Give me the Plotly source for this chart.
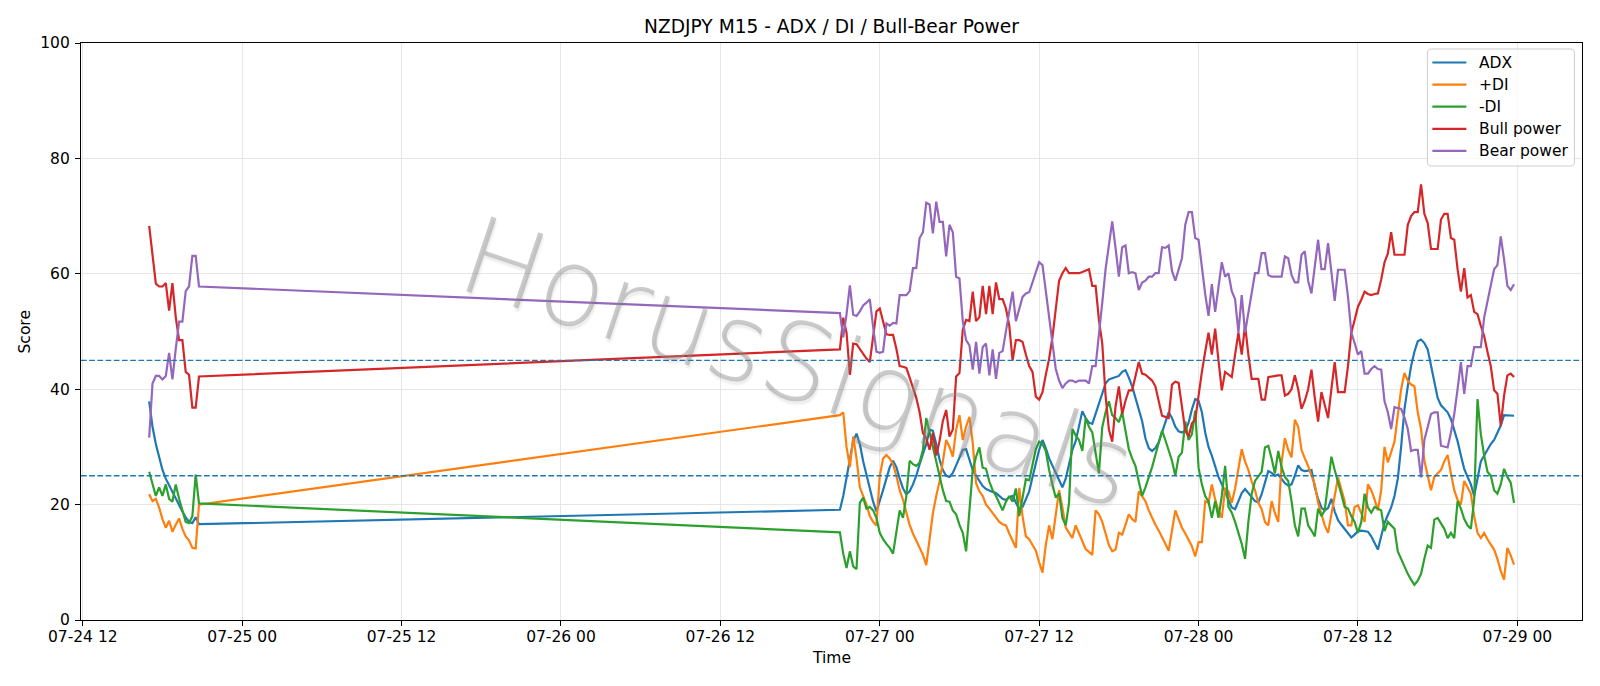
import re
import pandas as pd
import plotly.graph_objects as go

# ---------------- data ----------------
seg1_start = "2025-07-24 17:00"
seg2_start = "2025-07-26 21:00"

adx1 = [37.9, 33.5, 30.5, 28, 26, 24.5, 23.3, 22.2, 21, 19.8, 18.8, 17.8, 17.0, 16.8, 17.8, 16.6]
pdi1 = [21.8, 20.6, 21, 19.5, 17.5, 16, 17.2, 15.3, 16.5, 17.6, 15.8, 14.5, 13.8, 12.5, 12.4, 20]
mdi1 = [25.7, 23.5, 21.5, 23, 21.5, 23.5, 21, 20.5, 23.5, 21, 19, 17, 16.8, 18, 25.2, 20.2]
bull1 = [68.3, 63, 58.3, 57.8, 57.8, 58.4, 53.6, 58.4, 52.5, 48.5, 48.5, 43, 42.5, 36.8, 36.8, 42.2]
bear1 = [31.6, 41, 42.3, 42.3, 41.7, 42.3, 46.3, 41.7, 47, 51.7, 51.7, 57, 57.8, 63.1, 63.1, 57.8]

adx2 = [
    19.1, 21.5, 24.5, 28, 31, 32.3, 30.5, 27.5, 25, 22.5,
    20.5, 18.8, 20.5, 22.5, 24.5, 26.5, 27.6, 26.5, 24.5, 22.8,
    21.8, 22.3, 23.5, 25, 27, 28.8, 30.5, 33, 32.8, 30.5,
    27.8, 26, 25, 24.8, 25.5, 26.8, 28.3, 29.5, 29.6, 27.8,
    26, 25, 24, 23.2, 22.7, 22.4, 22.2, 22, 21.5, 21,
    20.8, 21.3, 21.5, 20.2, 19.2, 19.6, 20.8, 22.3, 24.8, 27.3,
    29.5, 31.2, 29.8, 28, 26.8, 25.5, 24.2, 23, 24.5, 27,
    29.5, 31, 33.5, 36.2, 35, 34.2, 34, 35.8, 37.8, 39.5,
    41, 41.7, 41.9, 42, 42.3, 43, 43.3, 42, 40.5, 38.5,
    36.5, 34.5, 31.5, 29.8, 29.3, 29.8, 30.8, 32.5, 34.5, 36,
    35, 33.5, 32.7, 32.5, 32.8, 34.2, 36.5, 38.3, 38, 36,
    32.5, 30, 28.5, 26.5, 24.8, 23.5, 22.3, 20.8, 19.5, 19.2,
    20.5, 22, 22.7, 22, 21.2, 20.6, 20.4, 21.8, 23.8, 25.8,
    25.5, 25, 25.2, 24.5, 23.7, 23.3, 23.5, 25, 26.8, 26,
    25.8, 25.9, 26, 23, 21, 19.5, 19, 19.4, 21, 18.8,
    17.3, 16.5, 15.8, 15, 14.3, 14.8, 15.4, 15.5, 15.4, 15.3,
    14.5, 13.2, 12.2, 14.5, 16.8, 18.2, 19.5, 21.5, 24.5, 30,
    36.5, 40.5, 44, 46.5, 48.3, 48.6, 48, 46.9, 44, 41,
    38.5, 37.2, 36.5, 36, 34.8, 33, 31, 28.5, 26.2, 24.8,
    23.5, 21.5, 24.5, 27.5, 28.5, 29.5, 30.5, 31.2, 32.5, 33.7,
    35.5, 35.5, 35.4, 35.4,
]
pdi2 = [
    35.5, 36, 30, 26.5, 31.8, 28, 23, 21.5, 20, 18,
    17, 16.4, 25, 28, 28.6, 28, 27, 25, 22.5, 20.8,
    18.5, 16.5, 15, 13.8, 12.5, 11.3, 9.5, 14, 18.5, 21.5,
    24, 27.5, 31.2, 30, 28.3, 33, 35.5, 31.2, 33.5, 35.2,
    30.7, 23.7, 22.3, 21.5, 20, 19.3, 18.5, 17.7, 17, 16.6,
    16.4, 15, 13.8, 12.5, 22.9, 18, 14.5, 14, 13, 12,
    10, 8.2, 13, 16.4, 14, 18, 22.5, 19.5, 16, 15.1,
    14.2, 16.4, 15, 13.5, 12.3, 11.8, 11.3, 19, 18.3, 17,
    15, 13, 11.9, 12.2, 15.1, 14.8, 16.5, 18.3, 17.5, 17,
    22.3, 21.5, 20.6, 19, 17.7, 16.5, 15.5, 14.2, 13.2, 12,
    15.5, 19, 17.5, 16, 15, 13.8, 12.8, 11, 13.5, 13.5,
    20.6, 20.3, 23.5, 20.9, 19, 17.7, 22.8, 22.3, 20.3, 22.8,
    26, 29.6, 27.5, 26, 24, 22.5, 20.3, 19.2, 17, 16.4,
    20.6, 18.5, 17, 27.3, 31.5, 29.5, 28.2, 34.7, 33.5, 29.5,
    28, 26.7, 25, 23.5, 20.3, 18.5, 16.4, 15.1, 18, 21.5,
    24.7, 22.5, 20.6, 16.4, 16.4, 19.6, 19.9, 18.5, 17, 23.5,
    22.5, 20.9, 19, 22.5, 30, 27.3, 29, 30.9, 35.5, 40,
    42.8, 41.5, 40.8, 40.5, 36, 33.1, 27.6, 25, 22.5, 24.8,
    25.5, 26, 27.5, 28.6, 25.4, 22.5, 20.8, 20, 24.1, 23,
    21.9, 18, 15.1, 14.2, 15.1, 14, 13, 12.2, 10.6, 8.5,
    7, 12.5, 11.2, 9.6,
]
mdi2 = [
    15.2, 11.5, 9, 11.9, 9.3, 8.8, 20.3, 21.2, 19.3, 19.6,
    19, 17.7, 15.1, 14, 13.2, 12.5, 11.5, 15, 19, 17.7,
    21.5, 27.6, 27, 26.7, 27.3, 29.5, 35, 32.5, 30, 27.3,
    25, 22.5, 20.6, 20.5, 19, 18.3, 16.5, 15.1, 11.9, 19.3,
    26, 28.3, 29.9, 26.4, 26.2, 24, 22.5, 21.5, 20.3, 19,
    20.5, 21.5, 20.5, 22.8, 18, 21, 24.4, 24.2, 27, 29.6,
    30.9, 30.5, 29.3, 26, 23.5, 21.2, 22, 17.7, 16.4, 20.3,
    33.1, 32, 31.2, 29.3, 35, 33.5, 32.5, 28.5, 25.4, 33.4,
    36, 37.9, 35.5, 35, 34.3, 36, 33, 29.6, 28, 26.7,
    24, 21.5, 23, 24.7, 26.5, 28.6, 30.5, 32.8, 31.2, 29.5,
    27.6, 25, 28.3, 29, 34.4, 31.2, 32.2, 36.3, 26.4, 23.5,
    21.5, 20.5, 17.7, 20.6, 17.7, 21.5, 26.7, 19.6, 18.6, 17,
    15, 13.2, 10.6, 17, 21.9, 24.1, 24.9, 25.7, 29.9, 30.2,
    28, 25.4, 29.3, 26.5, 24.8, 24.1, 20.6, 16.4, 14.5, 19.3,
    19.3, 16.4, 15.5, 14.5, 19.3, 18, 19, 23.5, 28.3, 26,
    24.1, 21.8, 19.6, 19.3, 18, 17, 15.1, 17, 21.9, 19.5,
    18.6, 19.6, 19.3, 19, 15.4, 17, 16.4, 15.8, 11.9, 10.5,
    9.3, 8, 7, 6.1, 6.8, 8, 10.6, 12.9, 12.5, 17.4,
    17.7, 16.8, 15.8, 14.2, 15.1, 14.2, 20.6, 19.3, 17.5, 16.4,
    15.8, 20.9, 38.3, 32.2, 28.5, 25.7, 25, 22.5, 21.9, 23.5,
    26.2, 24.8, 23.8, 20.3,
]
bull2 = [
    46.9, 52.4, 49.8, 42.5, 47.9, 47.8, 47, 46, 45.3, 44.7,
    49.5, 53.5, 54, 51.8, 49.5, 49.4, 49.4, 47, 44, 43.9,
    43.7, 42, 40.4, 38.5, 36, 32.4, 31.5, 29.5, 32.4, 28.5,
    31, 34.5, 36.4, 31.8, 33, 42.2, 42.8, 50.3, 52, 51.8,
    56.9, 51.8, 52.5, 57.9, 53, 57.9, 53, 58.5, 55.6, 55.6,
    54, 51, 45, 48.5, 48.5, 48.2, 46, 44, 43, 38.7,
    38.2, 39.5, 42.5, 45.3, 49, 54.5, 58.8, 60.1, 61, 60.1,
    60.1, 60.2, 60.1, 60.3, 60.5, 60.8, 57.9, 57.9, 52, 47.9,
    38.9, 33, 30.9, 37, 40.5, 35.7, 38, 39.8, 39.8, 42,
    44.7, 42.7, 42.5, 42, 41.5, 40.5, 38, 35.4, 35.2, 35,
    40.8, 41.3, 41.1, 36.6, 32.8, 31.8, 34.1, 34.7, 39, 43,
    46.5, 49.8, 46, 50.5, 45, 39.8, 43, 42.5, 42.1, 46,
    49.8, 46, 51.1, 46, 41.8, 41.8, 41.8, 38.2, 38.2, 42.1,
    42.2, 42.4, 42.4, 42.4, 38.9, 39.2, 40, 42.4, 40, 36.6,
    38, 40, 43.4, 38.5, 34.4, 39.5, 37, 35, 40, 44.7,
    39.5, 39.5, 39.5, 44, 49.8, 52, 54.3, 55.5, 56.9, 56.5,
    56.3, 56.5, 56.6, 59, 62, 63.5, 67.2, 63.3, 63.3, 63.3,
    63.3, 68.5, 70, 70.7, 70.7, 75.5, 70.4, 68.8, 64.3, 64.3,
    64.3, 69.4, 70.4, 70.4, 66.2, 65.9, 60.8, 56.9, 61, 55.9,
    56.3, 53.4, 53, 51, 49.2, 46.5, 44, 39.8, 39.2, 33.7,
    38.9, 42.4, 42.7, 42.1,
]
bear2 = [
    53.2, 49, 53, 58, 52.9, 52.7, 53.5, 54.5, 55, 55.6,
    50.8, 46.5, 46.3, 46.5, 51.4, 51, 51.5, 51.4, 56.3, 56.3,
    56.3, 57, 61, 61, 66.2, 67.2, 72.3, 72, 67, 72.5,
    69, 69, 63, 68.5, 67.2, 59.5, 59.2, 51.8, 48.5, 47.6,
    43.4, 48.2, 42.7, 47.3, 47.9, 42.4, 46.9, 41.8, 46.3, 46.6,
    49.8, 53, 56.9, 51.8, 54, 56, 56.6, 56.8, 58.5, 60.1,
    62, 61.5, 57, 51.8, 47.5, 43.5, 41.5, 40.2, 41, 41.5,
    41.5, 41.2, 41.5, 41.5, 41.5, 41, 44, 44, 49.2, 55,
    60.8, 65, 69.1, 64.5, 59.5, 64.6, 64.9, 60.1, 60.3, 60.1,
    57.2, 58.5, 58.8, 59.5, 59.5, 60.1, 60.1, 64.6, 64.5, 64.9,
    60.5, 58.8, 60.8, 62.7, 68.5, 70.7, 70.7, 66.2, 65.9, 60.8,
    56.5, 52.7, 58.2, 53.4, 57.5, 62, 59.5, 60.1, 57, 55.6,
    49.8, 56.3, 49.8, 53.5, 56.9, 60.1, 60.1, 63.6, 63.6, 59.8,
    59.5, 59.5, 59.5, 59.5, 63, 62.7, 59.8, 58.5, 58.5, 63.3,
    63.9, 58.8, 56.6, 61, 65.9, 60.8, 60.8, 65.3, 60.8, 55.3,
    60.7, 60.7, 60.7, 56, 49.8, 48, 46, 46.6, 42.7, 42.7,
    43.5, 44, 43.5, 43.4, 37.9, 36, 33.1, 36.9, 36.7, 36.6,
    35.1, 33.1, 29.3, 29.5, 29.5, 24.7, 31.2, 33.5, 35.7, 36,
    36, 30.2, 30, 29.9, 32.5, 35.7, 40, 44.7, 39.2, 44,
    44, 47.3, 47.3, 47.3, 52.4, 55, 58, 60.8, 61.5, 66.5,
    62.5, 57.9, 57.2, 58.2,
]

series_names = ["ADX", "+DI", "-DI", "Bull power", "Bear power"]
series_colors = ["#1f77b4", "#ff7f0e", "#2ca02c", "#d62728", "#9467bd"]
seg1 = [adx1, pdi1, mdi1, bull1, bear1]
seg2 = [adx2, pdi2, mdi2, bull2, bear2]
threshold_levels = [45, 25]

for s in seg1:
    assert len(s) == len(adx1), len(s)
for s in seg2:
    assert len(s) == len(adx2), len(s)

t1 = pd.date_range(seg1_start, periods=len(adx1), freq="15min")
t2 = pd.date_range(seg2_start, periods=len(adx2), freq="15min")
times = list(t1) + list(t2)

FONT = "DejaVu Sans"
W, H = 1600, 686
L, R, T, B = 81, 1581.6, 43, 620
pw, ph = R - L, B - T


def px_x(x):
    return (x - L) / pw


def px_y(y):
    return (B - y) / ph


fig = go.Figure()
for name, color, a, b in zip(series_names, series_colors, seg1, seg2):
    fig.add_trace(go.Scatter(
        x=times, y=list(a) + list(b), mode="lines", name=name, showlegend=False,
        line=dict(color=color, width=2.2),
    ))

for lvl in threshold_levels:
    fig.add_shape(type="line", xref="paper", x0=0, x1=1, yref="y", y0=lvl, y1=lvl,
                  line=dict(color="#1f77b4", width=1.4, dash="5.7px,2.5px"), layer="above")

axis_common = dict(
    showgrid=True, gridcolor="#e6e6e6", gridwidth=1.2,
    showline=True, mirror=True, linecolor="black", linewidth=1.2,
    ticks="outside", ticklen=5, tickwidth=1.2, tickcolor="black",
    zeroline=False, tickfont=dict(family=FONT, size=15.5, color="black"),
)

fig.update_layout(
    width=W, height=H,
    margin=dict(l=L, r=W - R, t=T, b=H - B, pad=0),
    paper_bgcolor="white", plot_bgcolor="white",
    font=dict(family=FONT, size=15.5, color="black"),
    title=dict(text="NZDJPY M15 - ADX / DI / Bull-Bear Power", xref="paper", x=0.5,
               xanchor="center", yref="container", y=1 - 26.5 / H, yanchor="middle",
               font=dict(family=FONT, size=18.6, color="black")),
    xaxis=dict(type="date", range=["2025-07-24 11:52", "2025-07-29 04:52"],
               tick0="2025-07-24 12:00", dtick=12 * 3600 * 1000, tickformat="%m-%d %H",
               ticklabelstandoff=-3, **axis_common),
    yaxis=dict(range=[0, 100], tick0=0, dtick=20, ticklabelstandoff=2, **axis_common),
    showlegend=False,
)

fig.add_annotation(text="Time", xref="paper", yref="paper", x=0.5, y=px_y(658),
                   showarrow=False, xanchor="center", yanchor="middle",
                   font=dict(family=FONT, size=15.5, color="black"))
fig.add_annotation(text="Score", xref="paper", yref="paper", x=px_x(25), y=0.5,
                   showarrow=False, xanchor="center", yanchor="middle", textangle=-90,
                   font=dict(family=FONT, size=15.5, color="black"))

# watermark
fig.add_annotation(
    text="HorusSignals", xref="paper", yref="paper",
    x=px_x(798), y=px_y(362), showarrow=False,
    xanchor="center", yanchor="middle", textangle=18.5,
    font=dict(family=FONT, size=108, weight=200, color="rgba(140,140,140,0.45)",
              shadow="2px 3px 2px rgba(0,0,0,0.16)"),
)

# legend (box + samples + labels, matplotlib style, upper right)
lx0, lx1, ly0, ly1 = 1427, 1574, 49, 166
r = 4
path = (f"M {lx0 + r},{ly0} L {lx1 - r},{ly0} Q {lx1},{ly0} {lx1},{ly0 + r} "
        f"L {lx1},{ly1 - r} Q {lx1},{ly1} {lx1 - r},{ly1} L {lx0 + r},{ly1} "
        f"Q {lx0},{ly1} {lx0},{ly1 - r} L {lx0},{ly0 + r} Q {lx0},{ly0} {lx0 + r},{ly0} Z")


def conv_path(p):
    def repl(m):
        xs, ys = m.group(0).split(",")
        return f"{px_x(float(xs)):.6f},{px_y(float(ys)):.6f}"
    return re.sub(r"[-\d.]+,[-\d.]+", repl, p)


fig.add_shape(type="path", xref="paper", yref="paper", path=conv_path(path),
              fillcolor="rgba(255,255,255,0.8)", line=dict(color="#cccccc", width=1),
              layer="above")
for i, (name, color) in enumerate(zip(series_names, series_colors)):
    yc = 62.5 + 22.1 * i
    fig.add_shape(type="line", xref="paper", yref="paper",
                  x0=px_x(1432), x1=px_x(1466), y0=px_y(yc), y1=px_y(yc),
                  line=dict(color=color, width=2.2), layer="above")
    fig.add_annotation(text=name, xref="paper", yref="paper", x=px_x(1477), y=px_y(yc),
                       showarrow=False, xanchor="left", yanchor="middle",
                       font=dict(family=FONT, size=15.5, color="black"))

fig.write_html("out.html")
